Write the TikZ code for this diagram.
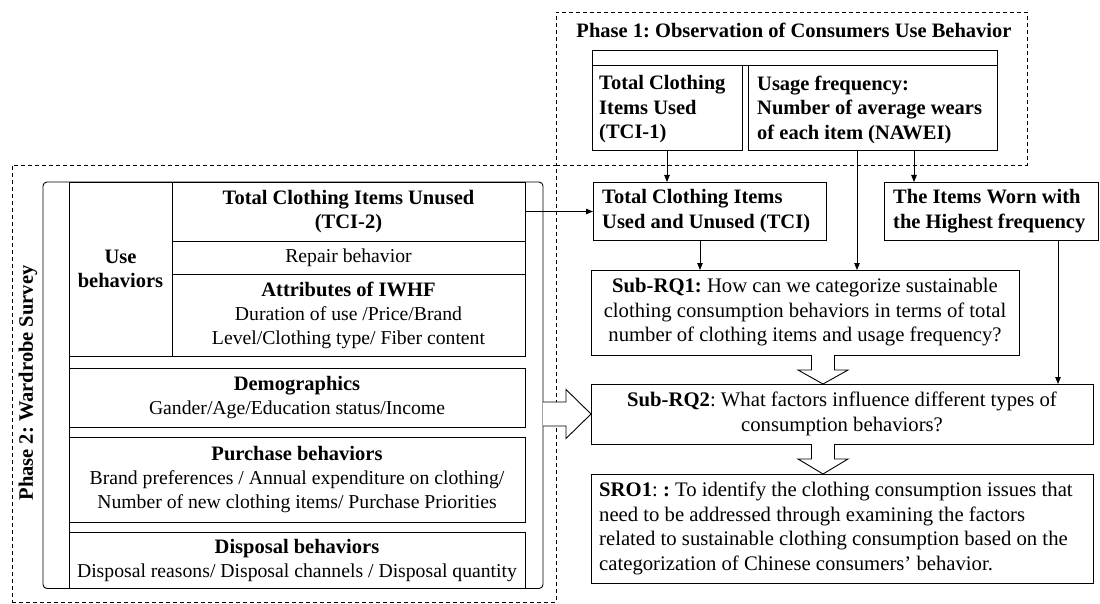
\documentclass[tikz,border=0pt]{standalone}
\usepackage{fontspec}
\setmainfont{Liberation Serif}
\usetikzlibrary{arrows.meta,calc}
\frenchspacing
\newcommand{\hdfont}{\fontsize{20.5}{24.5}\selectfont\bfseries}
\newcommand{\lfont}{\fontsize{19.7}{24}\selectfont}
\newcommand{\rfont}{\fontsize{20.7}{24.5}\selectfont}
\newcommand{\hd}[1]{{\hdfont #1}}

\begin{document}
\begin{tikzpicture}[x=1pt,y=-1pt,
  box/.style={draw, line width=0.9pt, inner sep=0pt, outer sep=0pt, anchor=north west},
  txt/.style={inner sep=0pt, anchor=west, align=left},
  phase/.style={draw, line width=0.8pt, dash pattern=on 4pt off 3pt},
  arr/.style={line width=0.9pt, -{Triangle[length=7pt,width=5.5pt]}},
  blk/.style={draw, fill=white, line width=0.9pt, line join=miter},
]
\useasboundingbox (0,0) rectangle (1100,604);

% dashed phase frames
\node[box, phase, minimum width=471pt, minimum height=153pt] (ph1) at (556,12) {};
\node[box, phase, minimum width=544pt, minimum height=437pt] (ph2) at (12,165) {};
\node[font=\hdfont, anchor=base] (ph1title) at (794,38) {Phase 1: Observation of Consumers Use Behavior};
\node[font=\hdfont, rotate=90] (ph2title) at (28,383) {Phase 2: Wardrobe Survey};

% phase 1 boxes
\node[box, minimum width=405pt, minimum height=15pt] (hdr) at (592,50) {};
\node[box, minimum width=150pt, minimum height=85pt] (tci1) at (592,65) {};
\node[txt, font=\hdfont] (tci1t) at ([xshift=7pt,yshift=-2pt]tci1.west) {Total Clothing\\Items Used\\(TCI-1)};
\node[box, minimum width=249pt, minimum height=85pt] (nawei) at (748,65) {};
\node[txt, font=\hdfont] (naweit) at ([xshift=9pt,yshift=-2pt]nawei.west) {Usage frequency:\\Number of average wears\\of each item (NAWEI)};

% wardrobe survey scroll
\node[box, rounded corners=4pt, minimum width=500pt, minimum height=406.5pt] (scroll) at (43,182) {};
\node[box, minimum width=456pt, minimum height=174pt] (use) at (69,182) {};
\node[box, minimum width=103pt, minimum height=174pt, align=center, font=\hdfont] (uselab) at (69,182) {Use\\behaviors};
\node[box, minimum width=353pt, minimum height=59pt, align=center, font=\hdfont] (tci2) at (172,182) {Total Clothing Items Unused\\(TCI-2)};
\node[box, minimum width=353pt, minimum height=33pt, font=\lfont] (repair) at (172,241) {Repair behavior};
\node[box, minimum width=353pt, minimum height=82pt, align=center, font=\lfont] (attr) at (172,274) {\hd{Attributes of IWHF}\\Duration of use /Price/Brand\\Level/Clothing type/ Fiber content};
\node[box, minimum width=456pt, minimum height=59pt, align=center, font=\lfont] (demo) at (69,368) {\hd{Demographics}\\Gander/Age/Education status/Income};
\node[box, minimum width=456pt, minimum height=85pt, align=center, font=\lfont] (purch) at (69,437) {\hd{Purchase behaviors}\\Brand preferences / Annual expenditure on clothing/\\Number of new clothing items/ Purchase Priorities};
\node[box, minimum width=456pt, minimum height=56.5pt, align=center, font=\lfont] (disp) at (69,532) {\hd{Disposal behaviors}\\Disposal reasons/ Disposal channels / Disposal quantity};
\draw[line width=0.9pt] (use.north west) -- (use.north west |- disp.south west);

% right column
\node[box, minimum width=233pt, minimum height=58pt] (tci) at (593,182) {};
\node[txt, font=\hdfont] (tcit) at ([xshift=9pt]tci.west) {Total Clothing Items\\Used and Unused (TCI)};
\node[box, minimum width=214pt, minimum height=58pt] (worn) at (884,182) {};
\node[txt, font=\hdfont] (wornt) at ([xshift=9pt]worn.west) {The Items Worn with\\the Highest frequency};
\node[box, minimum width=428pt, minimum height=85pt, align=center, font=\rfont] (rq1) at (591,270) {\textbf{Sub-RQ1:} How can we categorize sustainable\\clothing consumption behaviors in terms of total\\number of clothing items and usage frequency?};
\node[box, minimum width=502pt, minimum height=60pt, align=center, font=\rfont] (rq2) at (591,384) {\textbf{Sub-RQ2}: What factors influence different types of\\consumption behaviors?};
\node[box, minimum width=502pt, minimum height=109pt] (sro) at (591,474) {};
\node[txt, font=\rfont] (srot) at ([xshift=8pt]sro.west) {\textbf{SRO1}: \textbf{:} To identify the clothing consumption issues that\\need to be addressed through examining the factors\\related to sustainable clothing consumption based on the\\categorization of Chinese consumers' behavior.};

% line connectors
\coordinate (n1) at ([xshift=109pt]nawei.south west);
\coordinate (n2) at ([xshift=166pt]nawei.south west);
\coordinate (t1) at ([xshift=107pt]tci.south west);
\coordinate (w1) at ([xshift=174pt]worn.south west);
\draw[arr] (tci1.south) -- (tci1.south |- tci.north);
\draw[arr] (n1) -- (n1 |- rq1.north);
\draw[arr] (n2) -- (n2 |- worn.north);
\draw[arr] (t1) -- (t1 |- rq1.north);
\draw[arr] (w1) -- (w1 |- rq2.north);
\draw[arr] (tci2.east) -- (tci2.east -| tci.west);

% block arrows
\coordinate (b1) at ([xshift=232pt]rq1.south west);
\coordinate (b1e) at (b1 |- rq2.north);
\draw[blk] ($(b1)+(-11.5,0)$) -- ($(b1)+(-11.5,15)$) -- ($(b1)+(-25,15)$) -- (b1e)
  -- ($(b1)+(25,15)$) -- ($(b1)+(11.5,15)$) -- ($(b1)+(11.5,0)$);
\coordinate (b2) at ([xshift=232pt]rq2.south west);
\coordinate (b2e) at (b2 |- sro.north);
\draw[blk] ($(b2)+(-11.5,0)$) -- ($(b2)+(-11.5,15)$) -- ($(b2)+(-25,15)$) -- (b2e)
  -- ($(b2)+(25,15)$) -- ($(b2)+(11.5,15)$) -- ($(b2)+(11.5,0)$);
\coordinate (b3) at (scroll.east |- rq2.west);
\draw[blk] ($(b3)+(0,-12)$) -- ($(rq2.west)+(-25,-12)$) -- ($(rq2.west)+(-25,-24.5)$) -- (rq2.west)
  -- ($(rq2.west)+(-25,24.5)$) -- ($(rq2.west)+(-25,12)$) -- ($(b3)+(0,12)$);
\end{tikzpicture}
\end{document}
